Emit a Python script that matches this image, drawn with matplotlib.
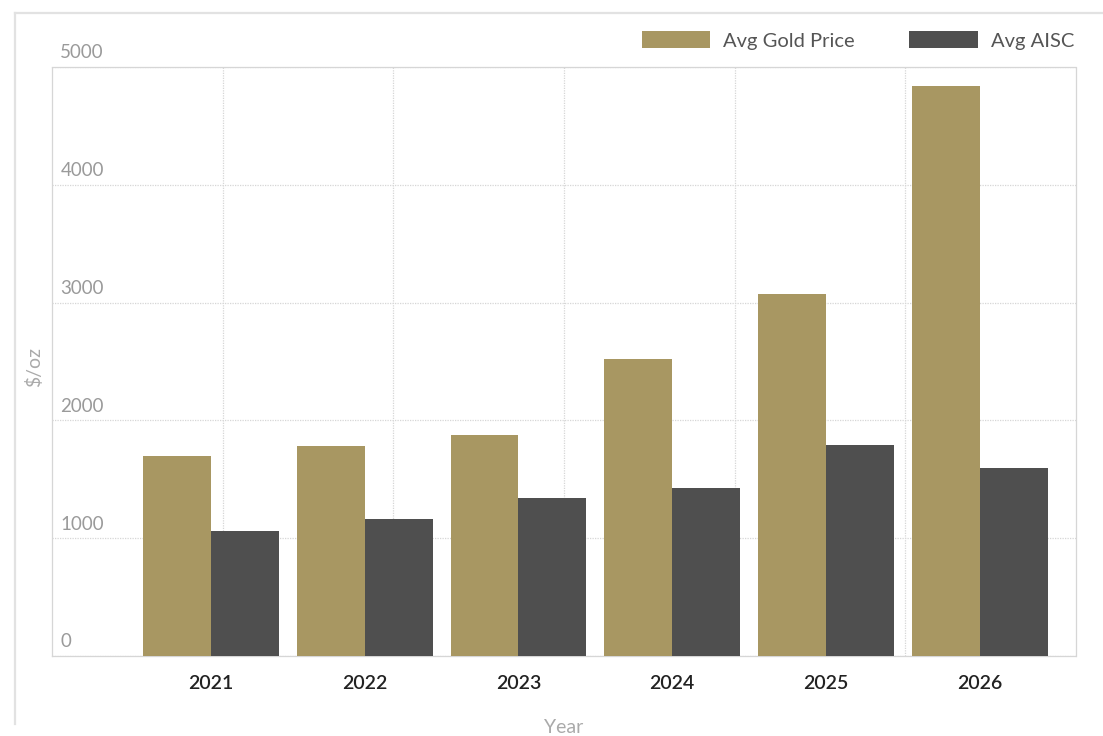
import numpy as np
import matplotlib
matplotlib.use("Agg")
import matplotlib.pyplot as plt
from matplotlib.lines import Line2D
from matplotlib.transforms import ScaledTranslation

# chart data
years = ["2021", "2022", "2023", "2024", "2025", "2026"]
gold_price = [1700, 1785, 1875, 2520, 3070, 4835]
aisc = [1065, 1165, 1340, 1430, 1790, 1600]
y_ticks = [0, 1000, 2000, 3000, 4000, 5000]

GOLD = "#a89762"
DARK = "#4f4f4f"
GRID = "#d6d6d6"

plt.rcParams["font.family"] = ["Lato", "DejaVu Sans"]

fig = plt.figure(figsize=(11.03, 7.36), dpi=100)
W, H = 1103, 736
ax = fig.add_axes([52 / W, 1 - 656 / H, (1076 - 52) / W, (656 - 67) / H])

x = np.arange(len(years))
w = 0.442
ax.bar(x - w / 2, gold_price, w, color=GOLD, label="Avg Gold Price", zorder=3)
ax.bar(x + w / 2, aisc, w, color=DARK, label="Avg AISC", zorder=3)

ax.set_xlim(-1.034, 5.626)
ax.set_ylim(0, 5000)

# dotted grid, box drawn the same way
ax.set_yticks(y_ticks)
ax.yaxis.grid(True, color=GRID, linestyle=(0, (1, 1)), linewidth=0.9, zorder=0)
for i in range(1, 6):
    ax.plot([i / 6, i / 6], [0, 1], transform=ax.transAxes, color=GRID,
            linestyle=(0, (1, 1)), linewidth=0.9, zorder=0)
for s in ax.spines.values():
    s.set_color(GRID)
    s.set_linestyle((0, (1, 1)))
    s.set_linewidth(0.9)

# y tick labels sit inside the plot, just above each gridline
ax.tick_params(axis="y", length=0, pad=-6, labelsize=13.5, labelcolor="#9a9a9a")
offset = ScaledTranslation(0, 4 / 72, fig.dpi_scale_trans)
for lab in ax.get_yticklabels():
    lab.set_horizontalalignment("left")
    lab.set_verticalalignment("bottom")
    lab.set_transform(lab.get_transform() + offset)

ax.set_xticks(x)
ax.set_xticklabels(years)
ax.tick_params(axis="x", length=0, pad=14, labelsize=14, labelcolor="#222222")
for lab in ax.get_xticklabels():
    lab.set_fontweight("semibold")

ax.set_xlabel("Year", fontsize=14, color="#aaaaaa", labelpad=19)
ax.set_ylabel("$/oz", fontsize=14, color="#aaaaaa")
ax.yaxis.set_label_coords(-9 / 1024, 0.49)

ax.legend(loc="center right", bbox_to_anchor=(1074 / W, 1 - 40.5 / H),
          bbox_transform=fig.transFigure, ncol=2, frameon=False,
          fontsize=14.5, labelcolor="#555555", handlelength=3.4, handleheight=0.85,
          handletextpad=0.65, columnspacing=2.7, borderpad=0, borderaxespad=0)

# card border (top and left)
fig.add_artist(Line2D([15 / W, 1], [1 - 13 / H, 1 - 13 / H], color="#e2e2e2", linewidth=1.6))
fig.add_artist(Line2D([15 / W, 15 / W], [1 - 13 / H, 1 - 724 / H], color="#e2e2e2", linewidth=1.6))

fig.savefig("out.png", dpi=100)
